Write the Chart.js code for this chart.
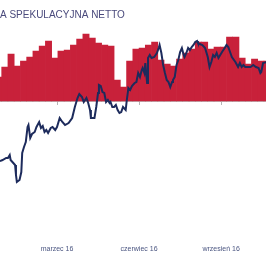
<!DOCTYPE html>
<html lang="pl">
<head>
    <meta charset="UTF-8" />
    <title>Pozycja spekulacyjna netto</title>
    <script src="https://cdn.jsdelivr.net/npm/chart.js"></script>
    <style>
        html, body { margin: 0; padding: 0; background: #fff; }
        #wrap { width: 266px; height: 266px; }
    </style>
</head>
<body>
<div id="wrap"><canvas id="chart" width="266" height="266"></canvas></div>

<script>
    // dni liczone od 1 stycznia 2016
    const tickDays = [60, 152, 244];
    const tickLabels = ['marzec 16', 'czerwiec 16', 'wrzesień 16'];

    // pozycja netto (tys. kontraktów), dane tygodniowe
    const firstBarDay = -5.5;
    const netPosition = [
        60, 85, 117.5, 87.5, 100, 110, 125, 137.5, 150, 107.5,
        125, 127.5, 140, 155, 167.5, 157.5, 145, 140, 137.5, 52.5,
        35, 100, 130, 132.5, 140, 147.5, 102.5, 92.5, 87.5, 105,
        120, 130, 147.5, 147.5, 130, 135, 135, 160, 160, 107.5,
        92.5, 105, 100, 100
    ];

    // kurs (prawa oś), dane dzienne
    const priceDays = [
        -4, -1, 3, 5, 7, 8, 11, 13, 14, 15, 18, 20, 21, 23, 25, 27, 28, 30, 32, 35,
        37, 40, 42, 44, 46, 48, 50, 53, 55, 58, 60, 63, 66, 69, 73, 77, 80, 83, 85, 88,
        90, 93, 95, 97, 98, 100, 102, 104, 106, 107, 109, 111, 113, 115, 117, 119, 120, 122, 124, 126,
        128, 130, 132, 134, 137, 138, 140, 142, 144, 147, 149, 151, 153, 155, 156, 158, 159, 161, 162, 164,
        166, 169, 172, 174, 175, 177, 179, 181, 183, 185, 187, 189, 190, 192, 194, 196, 198, 200, 202, 203,
        205, 207, 209, 211, 213, 215, 217, 218, 220, 223, 226, 229, 231, 233, 235, 237, 239, 241, 243, 245,
        248, 250, 252, 254, 256, 260, 263, 265, 267, 269, 271, 274, 277, 280, 283, 286, 288, 289, 291, 295
    ];
    const priceValues = [
        3.978, 3.980, 3.984, 3.984, 3.990, 3.980, 3.974, 3.970, 3.950, 3.936, 3.940, 3.956, 3.994, 4.006, 4.016, 4.046, 4.050, 4.024, 4.032, 4.036,
        4.046, 4.056, 4.044, 4.048, 4.036, 4.040, 4.034, 4.044, 4.046, 4.040, 4.046, 4.064, 4.056, 4.050, 4.054, 4.064, 4.086, 4.104, 4.112, 4.106,
        4.096, 4.104, 4.094, 4.080, 4.064, 4.064, 4.064, 4.086, 4.114, 4.130, 4.128, 4.116, 4.114, 4.096, 4.100, 4.094, 4.096, 4.086, 4.086, 4.090,
        4.080, 4.074, 4.076, 4.086, 4.080, 4.096, 4.124, 4.120, 4.128, 4.134, 4.136, 4.154, 4.146, 4.160, 4.164, 4.154, 4.174, 4.134, 4.184, 4.190,
        4.184, 4.186, 4.194, 4.204, 4.210, 4.194, 4.170, 4.154, 4.140, 4.136, 4.126, 4.136, 4.140, 4.146, 4.170, 4.180, 4.196, 4.204, 4.190, 4.186,
        4.194, 4.204, 4.200, 4.206, 4.210, 4.216, 4.218, 4.214, 4.212, 4.210, 4.204, 4.186, 4.166, 4.176, 4.190, 4.186, 4.194, 4.184, 4.190, 4.196,
        4.204, 4.210, 4.206, 4.196, 4.186, 4.176, 4.166, 4.174, 4.166, 4.170, 4.166, 4.166, 4.166, 4.170, 4.166, 4.164, 4.154, 4.156, 4.174, 4.176
    ];

    const barData = netPosition.map((v, i) => ({ x: firstBarDay + 7 * i, y: v }));
    const lineData = priceDays.map((d, i) => ({ x: d, y: priceValues[i] }));

    function setTicks(axis) {
        axis.ticks = tickDays.map(v => ({ value: v }));
    }

    const ctx = document.getElementById('chart').getContext('2d');
    const chart = new Chart(ctx, {
        type: 'bar',
        data: {
            datasets: [{
                type: 'line',
                label: 'Kurs',
                data: lineData,
                yAxisID: 'y1',
                xAxisID: 'x',
                borderColor: '#1d2b5c',
                borderWidth: 2,
                pointRadius: 0,
                tension: 0,
                order: 0
            }, {
                type: 'bar',
                label: 'Pozycja spekulacyjna netto',
                data: barData,
                yAxisID: 'y',
                xAxisID: 'x',
                backgroundColor: '#c8213a',
                borderWidth: 0,
                barPercentage: 1,
                categoryPercentage: 1,
                order: 1
            }]
        },
        options: {
            responsive: false,
            animation: false,
            layout: { padding: { left: 0, right: 0, top: 0, bottom: 10 } },
            plugins: {
                legend: { display: false },
                tooltip: { enabled: false },
                title: {
                    display: true,
                    text: 'A SPEKULACYJNA NETTO',
                    align: 'start',
                    color: '#4a4a7c',
                    font: { family: 'Liberation Sans', size: 10, weight: 'normal' },
                    padding: { top: 9, bottom: 8 }
                }
            },
            scales: {
                x: {
                    type: 'linear',
                    min: -3.9,
                    max: 294.3,
                    offset: false,
                    afterBuildTicks: setTicks,
                    grid: { display: false, drawTicks: false, offset: false },
                    border: { display: false },
                    ticks: {
                        padding: 3,
                        maxRotation: 0,
                        color: '#4a5580',
                        font: { family: 'Liberation Sans', size: 7 },
                        callback: (value) => tickLabels[tickDays.indexOf(value)]
                    }
                },
                x2: {
                    type: 'linear',
                    axis: 'x',
                    min: -3.9,
                    max: 294.3,
                    offset: false,
                    position: { y: 0 },
                    afterBuildTicks: setTicks,
                    grid: { display: true, drawOnChartArea: false, drawTicks: true, tickLength: 3, color: '#b5b5b5', offset: false },
                    border: { display: true, color: '#bdbdbd', dash: [2, 2], width: 1 },
                    ticks: { display: false }
                },
                y: {
                    display: false,
                    min: -351.5,
                    max: 180
                },
                y1: {
                    display: false,
                    min: 3.8168,
                    max: 4.242
                }
            }
        }
    });
</script>
</body>
</html>
